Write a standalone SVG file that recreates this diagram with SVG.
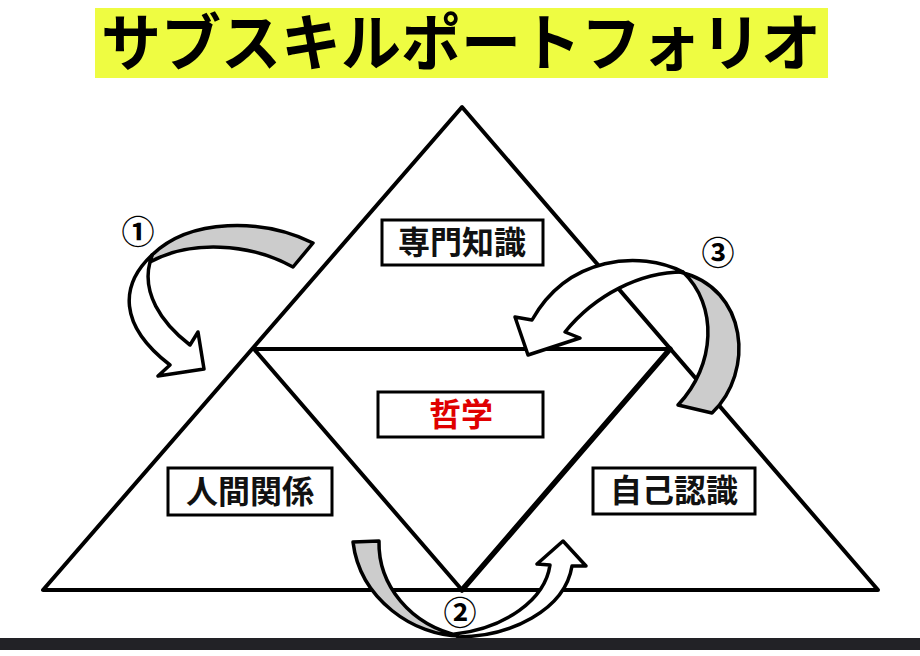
<svg xmlns="http://www.w3.org/2000/svg" width="920" height="656" viewBox="0 0 920 656">
<style>
.tri{fill:none;stroke:#000;stroke-width:4;stroke-linejoin:round}
.box{fill:#fff;stroke:#000;stroke-width:3}
.lbl{font-family:"Noto Sans CJK JP","Noto Sans",sans-serif;font-size:32px;font-weight:bold;text-anchor:middle;fill:#111}
.num{font-family:"Noto Sans CJK JP","DejaVu Sans",sans-serif;font-size:33px;font-weight:bold;text-anchor:middle;fill:#000}
.front{fill:#fff;stroke:#000;stroke-width:3.5;stroke-linejoin:round}
.back{fill:#cccccc;stroke:#000;stroke-width:3.5;stroke-linejoin:round}
</style>
<rect width="920" height="656" fill="#fff"/>
<g id="title">
<rect x="95" y="8" width="733" height="70" fill="#eefc42"/>
<text x="461" y="66" font-family="'Noto Sans CJK JP',sans-serif" font-size="62" font-weight="bold" text-anchor="middle" textLength="720" lengthAdjust="spacingAndGlyphs" fill="#000">サブスキルポートフォリオ</text>
</g>
<g id="triangles">
<polygon class="tri" points="462,107 43,590 878,590"/>
<polygon class="tri" points="254,349 670,349 462,590"/>
<line x1="670" y1="349" x2="462" y2="590" stroke="#000" stroke-width="5.5" stroke-linecap="round"/>
</g>
<g id="node-senmon">
<rect class="box" x="382" y="220" width="161" height="45"/>
<text class="lbl" x="462" y="254">専門知識</text>
</g>
<g id="node-tetsugaku">
<rect class="box" x="378" y="392" width="165" height="45"/>
<text class="lbl" x="461" y="426" style="fill:#e00000">哲学</text>
</g>
<g id="node-ningen">
<rect class="box" x="168" y="468" width="164" height="47"/>
<text class="lbl" x="250" y="503">人間関係</text>
</g>
<g id="node-jiko">
<rect class="box" x="593" y="468" width="162" height="46"/>
<text class="lbl" x="674" y="502">自己認識</text>
</g>
<g id="connectors">
<g id="arrow1">
<path class="back" d="M152,255 C190,218 262,218 313,243 L293,267 C250,243 190,240 150,262 Z"/>
<path class="front" d="M152,255 C120,285 118,325 170,365 L158,376 L204,369 L198,332 L190,345 C160,322 142,292 150,262 Z"/>
</g>
<g id="arrow2">
<path class="back" d="M353,542 L379,541 C378,585 410,625 460,636 C415,636 360,600 353,542 Z"/>
<path class="front" d="M458,637 C510,637 565,610 572,566 L586,566 L563,541 L537,564 L550,565 C545,600 505,628 455,634 Z"/>
</g>
<g id="arrow3">
<path class="front" d="M683,272 C640,250 568,256 532,320 L515,317 L528,355 L580,338 L565,332 C595,295 640,272 683,272 Z"/>
<path class="back" d="M680,272 C748,288 755,372 712,413 L678,405 C716,365 718,305 683,272 Z"/>
</g>
</g>
<g id="labels">
<text class="num" x="138" y="244">①</text>
<text class="num" x="718" y="265">③</text>
<circle cx="460" cy="613" r="15" fill="#fff"/>
<text class="num" x="460" y="625">②</text>
</g>
<rect x="0" y="638" width="920" height="12" fill="#222226"/>
</svg>
